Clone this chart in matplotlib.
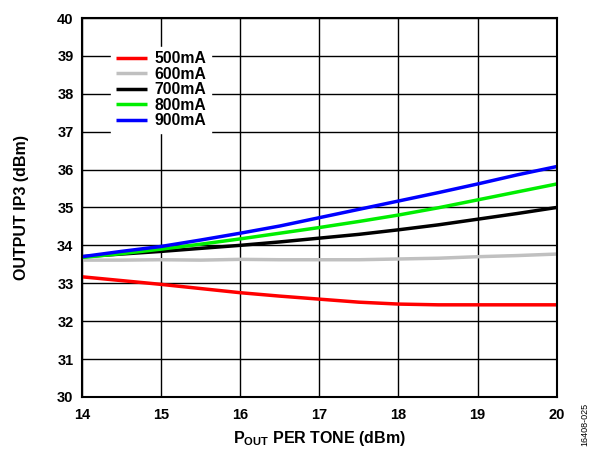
import numpy as np
import matplotlib
matplotlib.use('Agg')
import matplotlib.pyplot as plt

plt.rcParams['font.family'] = ['Liberation Sans', 'DejaVu Sans']
plt.rcParams['mathtext.fontset'] = 'custom'
plt.rcParams['mathtext.rm'] = 'Liberation Sans:bold'
plt.rcParams['mathtext.bf'] = 'Liberation Sans:bold'
plt.rcParams['mathtext.default'] = 'bf'

# P_OUT per tone (dBm)
pout = [14, 14.5, 15, 15.5, 16, 16.5, 17, 17.5, 18, 18.5, 19, 19.5, 20]

ip3_500 = [33.17, 33.07, 32.97, 32.86, 32.75, 32.66, 32.58, 32.50, 32.45, 32.43, 32.43, 32.43, 32.43]
ip3_600 = [33.61, 33.61, 33.62, 33.61, 33.63, 33.62, 33.62, 33.62, 33.64, 33.66, 33.70, 33.73, 33.77]
ip3_700 = [33.70, 33.77, 33.84, 33.92, 34.00, 34.09, 34.19, 34.29, 34.41, 34.54, 34.69, 34.84, 35.00]
ip3_800 = [33.68, 33.78, 33.90, 34.03, 34.17, 34.32, 34.47, 34.63, 34.80, 34.99, 35.20, 35.41, 35.62]
ip3_900 = [33.70, 33.84, 33.97, 34.14, 34.32, 34.51, 34.73, 34.95, 35.17, 35.39, 35.62, 35.86, 36.08]

labels = ['500mA', '600mA', '700mA', '800mA', '900mA']
colors = ['#ff0000', '#c0c0c0', '#000000', '#00ee00', '#0000ff']
series = [ip3_500, ip3_600, ip3_700, ip3_800, ip3_900]

fig = plt.figure(figsize=(5.93, 4.5), dpi=100)
ax = fig.add_axes([0.138, 0.118, 0.801, 0.842])

for y, c, lab in zip(series, colors, labels):
    ax.plot(pout, y, color=c, lw=2.5, label=lab, solid_capstyle='butt')

ax.set_xlim(14, 20)
ax.set_ylim(30, 40)
ax.set_xticks(range(14, 21))
ax.set_yticks(range(30, 41))
ax.grid(True, color='black', lw=1.0)
ax.set_axisbelow(True)
ax.tick_params(length=0, labelsize=10.5)
ax.tick_params(axis='x', pad=8)
ax.tick_params(axis='y', pad=6)
for lab in ax.get_xticklabels() + ax.get_yticklabels():
    lab.set_fontweight('bold')
for sp in ax.spines.values():
    sp.set_linewidth(1.5)

ax.set_xlabel(r'P$_{OUT}$ PER TONE (dBm)', fontsize=11.5, fontweight='bold', labelpad=5)
ax.set_ylabel('OUTPUT IP3 (dBm)', fontsize=11.5, fontweight='bold', labelpad=20)

leg = ax.legend(loc='upper left', bbox_to_anchor=(0.045, 0.945), frameon=True,
                fancybox=False, edgecolor='white', framealpha=1,
                prop={'weight': 'bold', 'size': 11.3}, handlelength=2.0,
                labelspacing=0.03, borderpad=0.3, handletextpad=0.45)

fig.text(0.993, 0.01, '16408-025', rotation=90, fontsize=6.5, ha='right', va='bottom')

fig.savefig('out.png', dpi=100)
